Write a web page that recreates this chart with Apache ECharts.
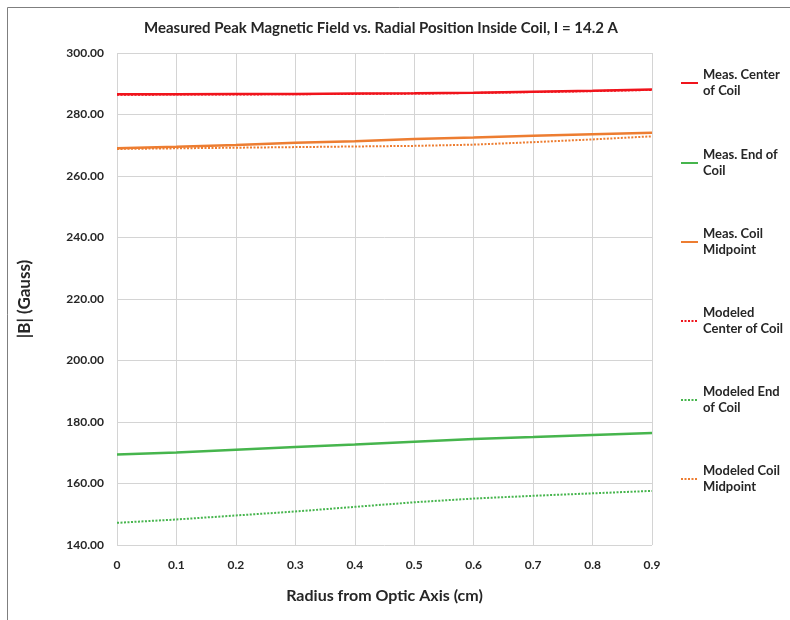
<!DOCTYPE html>
<html>
<head>
<meta charset="utf-8">
<script src="https://cdn.jsdelivr.net/npm/echarts@6/dist/echarts.min.js"></script>
<style>
  html, body { margin: 0; padding: 0; background: #ffffff; }
  #chart { width: 790px; height: 620px; }
</style>
</head>
<body>
<div id="chart"></div>
<script>
// Radial positions (cm)
const radius = ['0', '0.1', '0.2', '0.3', '0.4', '0.5', '0.6', '0.7', '0.8', '0.9'];

// |B| in Gauss, measured vs. modeled
const measCenter   = [286.6, 286.6, 286.7, 286.7, 286.8, 286.9, 287.1, 287.4, 287.7, 288.1];
const measEnd      = [169.4, 170.1, 171.0, 171.9, 172.7, 173.6, 174.5, 175.1, 175.8, 176.4];
const measMid      = [269.0, 269.5, 270.1, 270.8, 271.3, 272.0, 272.5, 273.1, 273.6, 274.1];
const modelCenter  = [286.4, 286.5, 286.5, 286.6, 286.7, 286.8, 287.0, 287.3, 287.6, 288.0];
const modelEnd     = [147.2, 148.3, 149.6, 150.9, 152.4, 153.9, 155.1, 156.0, 156.8, 157.6];
const modelMid     = [268.8, 269.0, 269.2, 269.4, 269.6, 269.8, 270.2, 271.0, 271.9, 272.9];

const seriesNames = [
  'Meas. Center of Coil', 'Meas. End of Coil', 'Meas. Coil Midpoint',
  'Modeled Center of Coil', 'Modeled End of Coil', 'Modeled Coil Midpoint'
];
const legendText = [
  'Meas. Center\nof Coil', 'Meas. End of\nCoil', 'Meas. Coil\nMidpoint',
  'Modeled\nCenter of Coil', 'Modeled End\nof Coil', 'Modeled Coil\nMidpoint'
];

const RED = '#f0141c', GREEN = '#46b54d', ORANGE = '#ed7d31';
const FONT = 'Lato';
const TEXT = '#262626';

const seriesData = [measCenter, measEnd, measMid, modelCenter, modelEnd, modelMid];
const colors = [RED, GREEN, ORANGE, RED, GREEN, ORANGE];
const dotted = [false, false, false, true, true, true];

const series = seriesNames.map((name, i) => ({
  name: name,
  type: 'line',
  data: seriesData[i],
  showSymbol: false,
  symbol: 'none',
  z: dotted[i] ? 3 : 2,
  lineStyle: {
    color: colors[i],
    width: dotted[i] ? 2 : 2.5,
    type: dotted[i] ? [2, 1.5] : 'solid'
  },
  itemStyle: { color: colors[i] }
}));

// one legend block per series, stacked down the right margin;
// the top padding lines the first text row up with the key line
const legendTops = [59, 139, 218, 297, 376, 455];
const legends = seriesNames.map((name, i) => ({
  data: [name],
  left: 680,
  top: legendTops[i],
  orient: 'vertical',
  itemWidth: 17,
  itemHeight: 14,
  itemGap: 0,
  padding: 0,
  itemStyle: { opacity: 0 },
  formatter: () => legendText[i],
  textStyle: {
    fontFamily: FONT, fontWeight: 'bold', fontSize: 13, color: TEXT,
    lineHeight: 16, padding: [16, 0, 0, 0]
  },
  selectedMode: false
}));

const chart = echarts.init(document.getElementById('chart'), null, { renderer: 'canvas' });
chart.setOption({
  animation: false,
  backgroundColor: '#ffffff',
  graphic: [{
    type: 'rect',
    shape: { x: 7.5, y: 7.5, width: 800, height: 700 },
    style: { fill: 'none', stroke: '#7f7f7f', lineWidth: 1 },
    silent: true
  }],
  title: {
    text: 'Measured Peak Magnetic Field vs. Radial Position Inside Coil, I = 14.2 A',
    left: 376, top: 16, textAlign: 'center',
    textStyle: { fontFamily: FONT, fontWeight: 'bold', fontSize: 15, color: TEXT }
  },
  legend: legends,
  grid: { left: 117, right: 138, top: 53, bottom: 75, containLabel: false },
  xAxis: {
    type: 'category',
    data: radius,
    boundaryGap: false,
    name: 'Radius from Optic Axis (cm)',
    nameLocation: 'middle',
    nameGap: 43,
    nameTextStyle: { fontFamily: FONT, fontWeight: 'bold', fontSize: 16, color: TEXT },
    axisLine: { show: false },
    axisTick: { show: false },
    axisLabel: { fontFamily: FONT, fontWeight: 'bold', fontSize: 12, color: TEXT, margin: 14, interval: 0 },
    splitLine: { show: true, interval: 0, lineStyle: { color: '#d4d4d4', width: 1 } }
  },
  yAxis: {
    type: 'value',
    min: 140, max: 300, interval: 20,
    name: '|B| (Gauss)',
    nameLocation: 'middle',
    nameGap: 84,
    nameRotate: 90,
    nameTextStyle: { fontFamily: FONT, fontWeight: 'bold', fontSize: 17, color: TEXT },
    axisLine: { show: false },
    axisTick: { show: false },
    axisLabel: { fontFamily: FONT, fontWeight: 'bold', fontSize: 12, color: TEXT, margin: 13,
                 formatter: v => v.toFixed(2) },
    splitLine: { show: true, lineStyle: { color: '#d4d4d4', width: 1 } }
  },
  series: series
});
</script>
</body>
</html>
